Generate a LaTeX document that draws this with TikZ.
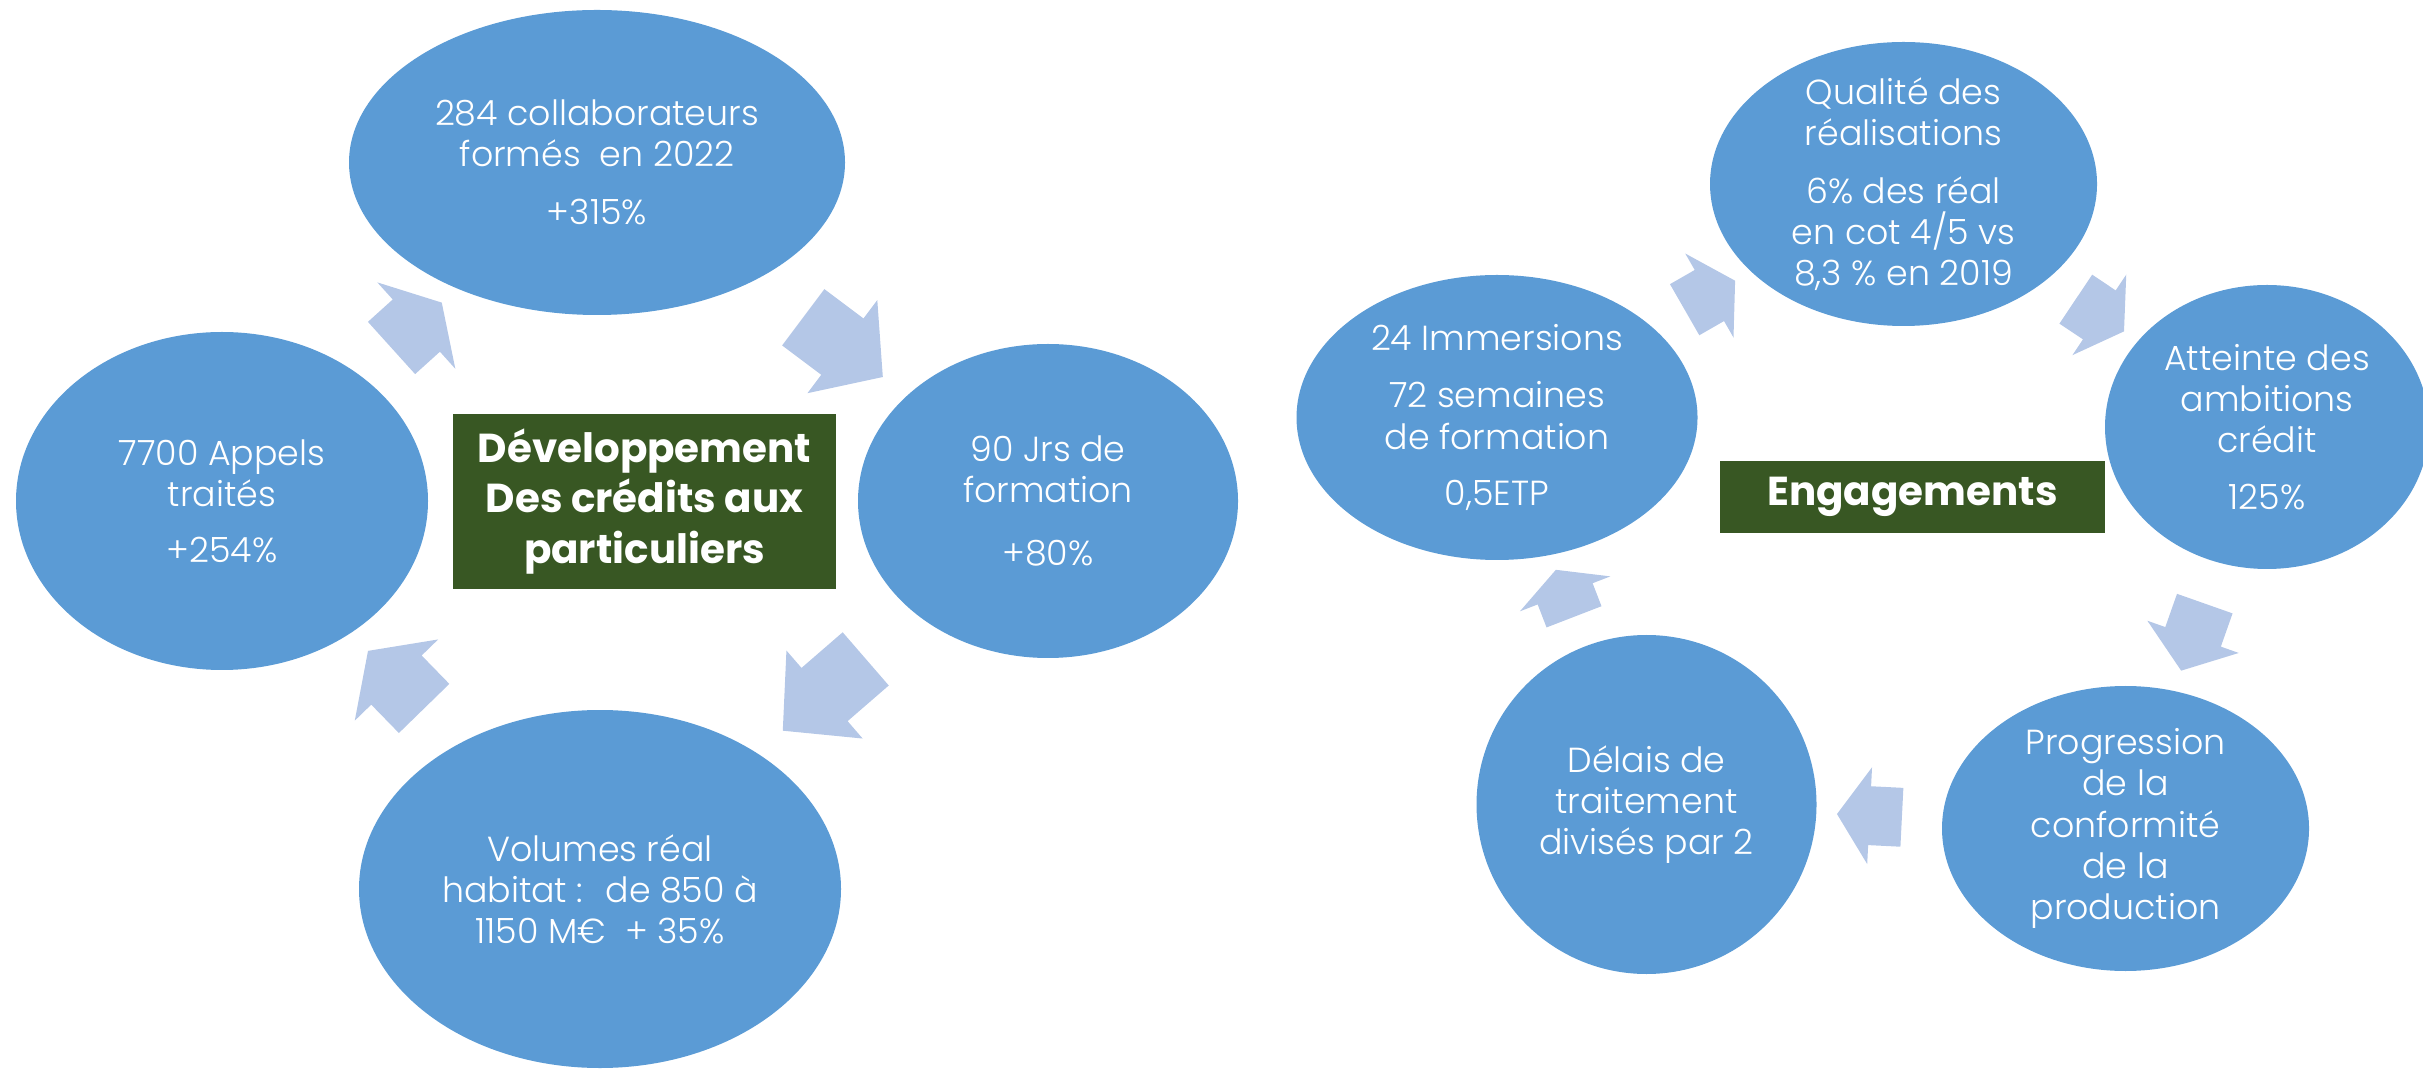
\documentclass[tikz,border=0pt]{standalone}
\usepackage{fontspec}
\setmainfont{Poppins}
\newfontfamily\lightfont{Poppins Light}
\usepackage{tikz}
\usetikzlibrary{shapes.geometric,shapes.arrows}
\definecolor{bblue}{HTML}{5B9BD5}
\definecolor{lblue}{HTML}{B4C7E7}
\definecolor{dgreen}{HTML}{385723}
\tikzset{
    %Define style for the blue bubbles
    bubble/.style={
           ellipse,
           draw=none,
           fill=bblue,
           inner sep=0pt},
    btext/.style={
           align=center,
           text=white,
           inner sep=0pt,
           font=\lightfont\fontsize{9.9}{11.7}\selectfont},
    % Define style for the green boxes
    titlebox/.style={
           rectangle,
           fill=dgreen,
           text=white,
           align=center,
           inner sep=0pt,
           font=\fontsize{11.5}{14.5}\selectfont\bfseries},
    % Define block arrow style
    cyc/.style={
           single arrow,
           draw=none,
           fill=lblue,
           inner xsep=0pt,
           sloped,
           allow upside down},
    cycl/.style={cyc, inner ysep=.345cm, single arrow head extend=.23cm, minimum width=1.15cm},
    cycr/.style={cyc, inner ysep=.2875cm, single arrow head extend=.19cm, minimum width=.955cm}
}
\begin{document}
\begin{tikzpicture}
\useasboundingbox (0,0) rectangle (24.23,10.68);
% left cycle
\node[titlebox, minimum width=3.83cm, minimum height=1.75cm](c1) at (6.445,5.665){D\'eveloppement\\ Des cr\'edits aux\\ particuliers};
\node[bubble, minimum width=4.96cm, minimum height=3.05cm, label={[btext]center:{284 collaborateurs\\ form\'es~ en 2022\\[.17cm] +315\%}}](1) at (5.97,9.055){};
\node[bubble, minimum width=3.80cm, minimum height=3.14cm, label={[btext]center:{90 Jrs de\\ formation\\[.22cm] +80\%}}](2) at (10.48,5.67){};
\node[bubble, minimum width=4.82cm, minimum height=3.58cm, label={[btext]center:{Volumes r\'eal\\ habitat :~ de 850 \`a\\ 1150 M€~ + 35\%}}](3) at (6.00,1.79){};
\node[bubble, minimum width=4.12cm, minimum height=3.38cm, label={[btext]center:{7700 Appels\\ trait\'es\\[.15cm] +254\%}}](4) at (2.22,5.67){};
\path (4) -- node[cycl, minimum height=.677cm, single arrow tip angle=119]{} (1)
      (1) -- node[cycl, minimum height=.995cm, single arrow tip angle=98]{} (2)
      (2) -- node[cycl, minimum height=1.097cm, single arrow tip angle=93]{} (3)
      (3) -- node[cycl, minimum height=.804cm, single arrow tip angle=110]{} (4);

% right cycle
\node[titlebox, minimum width=3.85cm, minimum height=.72cm](c2) at (19.125,5.71){Engagements};
\node[bubble, minimum width=3.87cm, minimum height=2.84cm, label={[btext]center:{Qualit\'e des\\ r\'ealisations\\[.17cm] 6\% des r\'eal\\ en cot 4/5 vs\\ 8,3 \% en 2019}}](5) at (19.035,8.84){};
\node[bubble, minimum width=3.24cm, minimum height=2.84cm, label={[btext]center:{Atteinte des\\ ambitions\\ cr\'edit\\[.16cm] 125\%}}](6) at (22.67,6.41){};
\node[bubble, minimum width=3.67cm, minimum height=2.85cm, label={[btext]center:{Progression\\ de la\\ conformit\'e\\ de la\\ production}}](7) at (21.255,2.395){};
\node[bubble, minimum width=3.40cm, minimum height=3.39cm, label={[btext]center:{D\'elais de\\ traitement\\ divis\'es par 2}}](8) at (16.465,2.635){};
\node[bubble, minimum width=4.01cm, minimum height=2.85cm, label={[btext]center:{24 Immersions\\[.16cm] 72 semaines\\ de formation\\[.15cm] 0,5ETP}}](9) at (14.97,6.505){};
\path (9) -- node[cycr, minimum height=.582cm, single arrow tip angle=117]{} (5)
      (5) -- node[cycr, minimum height=.58cm, single arrow tip angle=117]{} (6)
      (6) -- node[cycr, minimum height=.711cm, single arrow tip angle=107]{} (7)
      (7) -- node[cycr, minimum height=.65cm, single arrow tip angle=112]{} (8)
      (8) -- node[cycr, minimum height=.504cm, single arrow tip angle=124]{} (9);
\end{tikzpicture}
\end{document}
